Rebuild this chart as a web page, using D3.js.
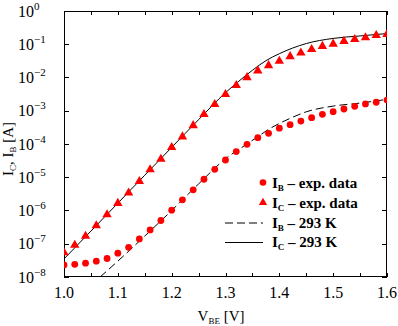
<!DOCTYPE html>
<html><head><meta charset="utf-8">
<script src="https://cdn.jsdelivr.net/npm/d3@7"></script>
<style>body{margin:0;background:#fff}svg{display:block}</style>
</head><body>
<script>
const vbeExp = [1.00,1.02,1.04,1.06,1.08,1.10,1.12,1.14,1.16,1.18,1.20,1.22,1.24,1.26,1.28,1.30,1.32,1.34,1.36,1.38,1.40,1.42,1.44,1.46,1.48,1.50,1.52,1.54,1.56,1.58,1.60];
const icExp = [5.4e-8,9.1e-8,1.7e-7,3.5e-7,7.5e-7,1.65e-6,3.4e-6,7.5e-6,1.7e-5,3.5e-5,7.9e-5,1.66e-4,3.6e-4,7.8e-4,1.56e-3,3.1e-3,5.8e-3,1.0e-2,1.6e-2,2.3e-2,3.1e-2,4.3e-2,5.5e-2,7.0e-2,8.7e-2,0.102,0.123,0.14,0.158,0.186,0.2];
const ibExp = [2.3e-8,2.4e-8,2.6e-8,3.0e-8,3.6e-8,5.2e-8,7.8e-8,1.4e-7,2.6e-7,5.0e-7,1.02e-6,2.1e-6,4.2e-6,8.7e-6,1.73e-5,3.3e-5,5.9e-5,9.8e-5,1.55e-4,2.1e-4,3.0e-4,3.8e-4,4.9e-4,6.2e-4,7.8e-4,9.4e-4,1.13e-3,1.36e-3,1.6e-3,1.8e-3,2.1e-3];
const vbeSimC = [1.00,1.05,1.10,1.15,1.20,1.25,1.30,1.325,1.35,1.375,1.40,1.45,1.50,1.55,1.60];
const icSim = [3.5e-8,2.4e-7,1.66e-6,1.15e-5,7.9e-5,5.4e-4,3.5e-3,7.8e-3,1.65e-2,3.2e-2,5.2e-2,0.105,0.15,0.178,0.21];
const vbeSimB = [1.067,1.10,1.15,1.20,1.25,1.30,1.34,1.36,1.38,1.42,1.45,1.50,1.55,1.60];
const ibSim = [1.0e-8,3.0e-8,1.7e-7,1.0e-6,6.3e-6,3.6e-5,1.0e-4,1.66e-4,2.75e-4,5.9e-4,9.3e-4,1.38e-3,1.7e-3,2.2e-3];
const xTickLabels = ["1.0","1.1","1.2","1.3","1.4","1.5","1.6"];
const yExponents = [0,-1,-2,-3,-4,-5,-6,-7,-8];
const legendLabels = [["B"," – exp. data"],["C"," – exp. data"],["B"," – 293 K"],["C"," – 293 K"]];

const FONT="'Liberation Serif','Times New Roman',Times,serif";
const W=398,H=326, L=64,R=387,T=11,B=277;
const svg=d3.select("body").append("svg").attr("width",W).attr("height",H).attr("font-family",FONT);
const x=d3.scaleLinear().domain([1.0,1.6]).range([L,R]);
const y=d3.scaleLog().domain([1e-8,1]).range([B,T]);

svg.append("clipPath").attr("id","clip").append("rect").attr("x",L).attr("y",T).attr("width",R-L).attr("height",B-T);

// ticks
const xt=d3.range(0,13).map(i=>1.0+i*0.05);
const tk=svg.append("g").attr("stroke","#000").attr("stroke-width",1);
xt.forEach(v=>{const px=Math.round(x(v))+0.5;
  tk.append("line").attr("x1",px).attr("x2",px).attr("y1",B).attr("y2",B-4);
  tk.append("line").attr("x1",px).attr("x2",px).attr("y1",T).attr("y2",T+4);});
yExponents.forEach(e=>{const py=Math.round(y(Math.pow(10,e)))+0.5;
  tk.append("line").attr("x1",L).attr("x2",L+5).attr("y1",py).attr("y2",py);
  tk.append("line").attr("x1",R).attr("x2",R-5).attr("y1",py).attr("y2",py);});

// frame
svg.append("rect").attr("x",L+0.5).attr("y",T+0.5).attr("width",R-L-1).attr("height",B-T-1).attr("fill","none").attr("stroke","#000").attr("stroke-width",1);

// x tick labels
xTickLabels.forEach(s=>{svg.append("text").attr("font-family",FONT).attr("x",x(+s)).attr("y",298).attr("text-anchor","middle").attr("font-size",16).text(s);});
// y tick labels
yExponents.forEach(e=>{const t=svg.append("text").attr("font-family",FONT).attr("x",18).attr("y",y(Math.pow(10,e))+5.5).attr("font-size",16);
  t.append("tspan").text("10");
  t.append("tspan").attr("dy",-7).attr("font-size",11).text(e===0?"0":"−"+(-e));});

// axis titles
const xl=svg.append("text").attr("font-family",FONT).attr("x",221).attr("y",321).attr("text-anchor","middle").attr("font-size",15);
xl.append("tspan").text("V");xl.append("tspan").attr("font-size",9).attr("dy",3).text("BE");xl.append("tspan").attr("dy",-3).text(" [V]");
const yl=svg.append("text").attr("font-family",FONT).attr("transform","translate(13,149) rotate(-90)").attr("text-anchor","middle").attr("font-size",15);
yl.append("tspan").text("I");yl.append("tspan").attr("font-size",9).attr("dy",3).text("C");yl.append("tspan").attr("dy",-3).text(", I");
yl.append("tspan").attr("font-size",9).attr("dy",3).text("B");yl.append("tspan").attr("dy",-3).text(" [A]");

// sim lines
const g=svg.append("g").attr("clip-path","url(#clip)");
const line=d3.line().x(d=>x(d[0])).y(d=>y(d[1])).curve(d3.curveMonotoneX);
g.append("path").attr("d",line(vbeSimC.map((v,i)=>[v,icSim[i]]))).attr("fill","none").attr("stroke","#000").attr("stroke-width",1);
g.append("path").attr("d",line(vbeSimB.map((v,i)=>[v,ibSim[i]]))).attr("fill","none").attr("stroke","#000").attr("stroke-width",1).attr("stroke-dasharray","8,4");

// markers
const tri=d3.symbol().type(d3.symbolTriangle).size(38);
g.selectAll(".ic").data(vbeExp).enter().append("path").attr("d",tri)
 .attr("transform",(d,i)=>`translate(${x(d)},${y(icExp[i])})`).attr("fill","#f00");
g.selectAll(".ib").data(vbeExp).enter().append("circle").attr("cx",d=>x(d)).attr("cy",(d,i)=>y(ibExp[i])).attr("r",3.4).attr("fill","#f00");

// legend
const ly=[182.5,202.5,222.5,242];
svg.append("circle").attr("cx",263).attr("cy",ly[0]).attr("r",3.3).attr("fill","#f00");
svg.append("path").attr("d",d3.symbol().type(d3.symbolTriangle).size(30)).attr("transform",`translate(263,${ly[1]})`).attr("fill","#f00");
svg.append("line").attr("x1",225).attr("x2",263).attr("y1",ly[2]+0.5).attr("y2",ly[2]+0.5).attr("stroke","#000").attr("stroke-dasharray","8,4");
svg.append("line").attr("x1",225).attr("x2",263).attr("y1",ly[3]+0.5).attr("y2",ly[3]+0.5).attr("stroke","#000");
legendLabels.forEach((l,i)=>{const t=svg.append("text").attr("font-family",FONT).attr("x",272).attr("y",ly[i]+5).attr("font-size",15).attr("font-weight","bold");
  t.append("tspan").text("I");t.append("tspan").attr("font-size",9).attr("dy",3).text(l[0]);t.append("tspan").attr("dy",-3).text(l[1]);});
</script>
</body></html>
